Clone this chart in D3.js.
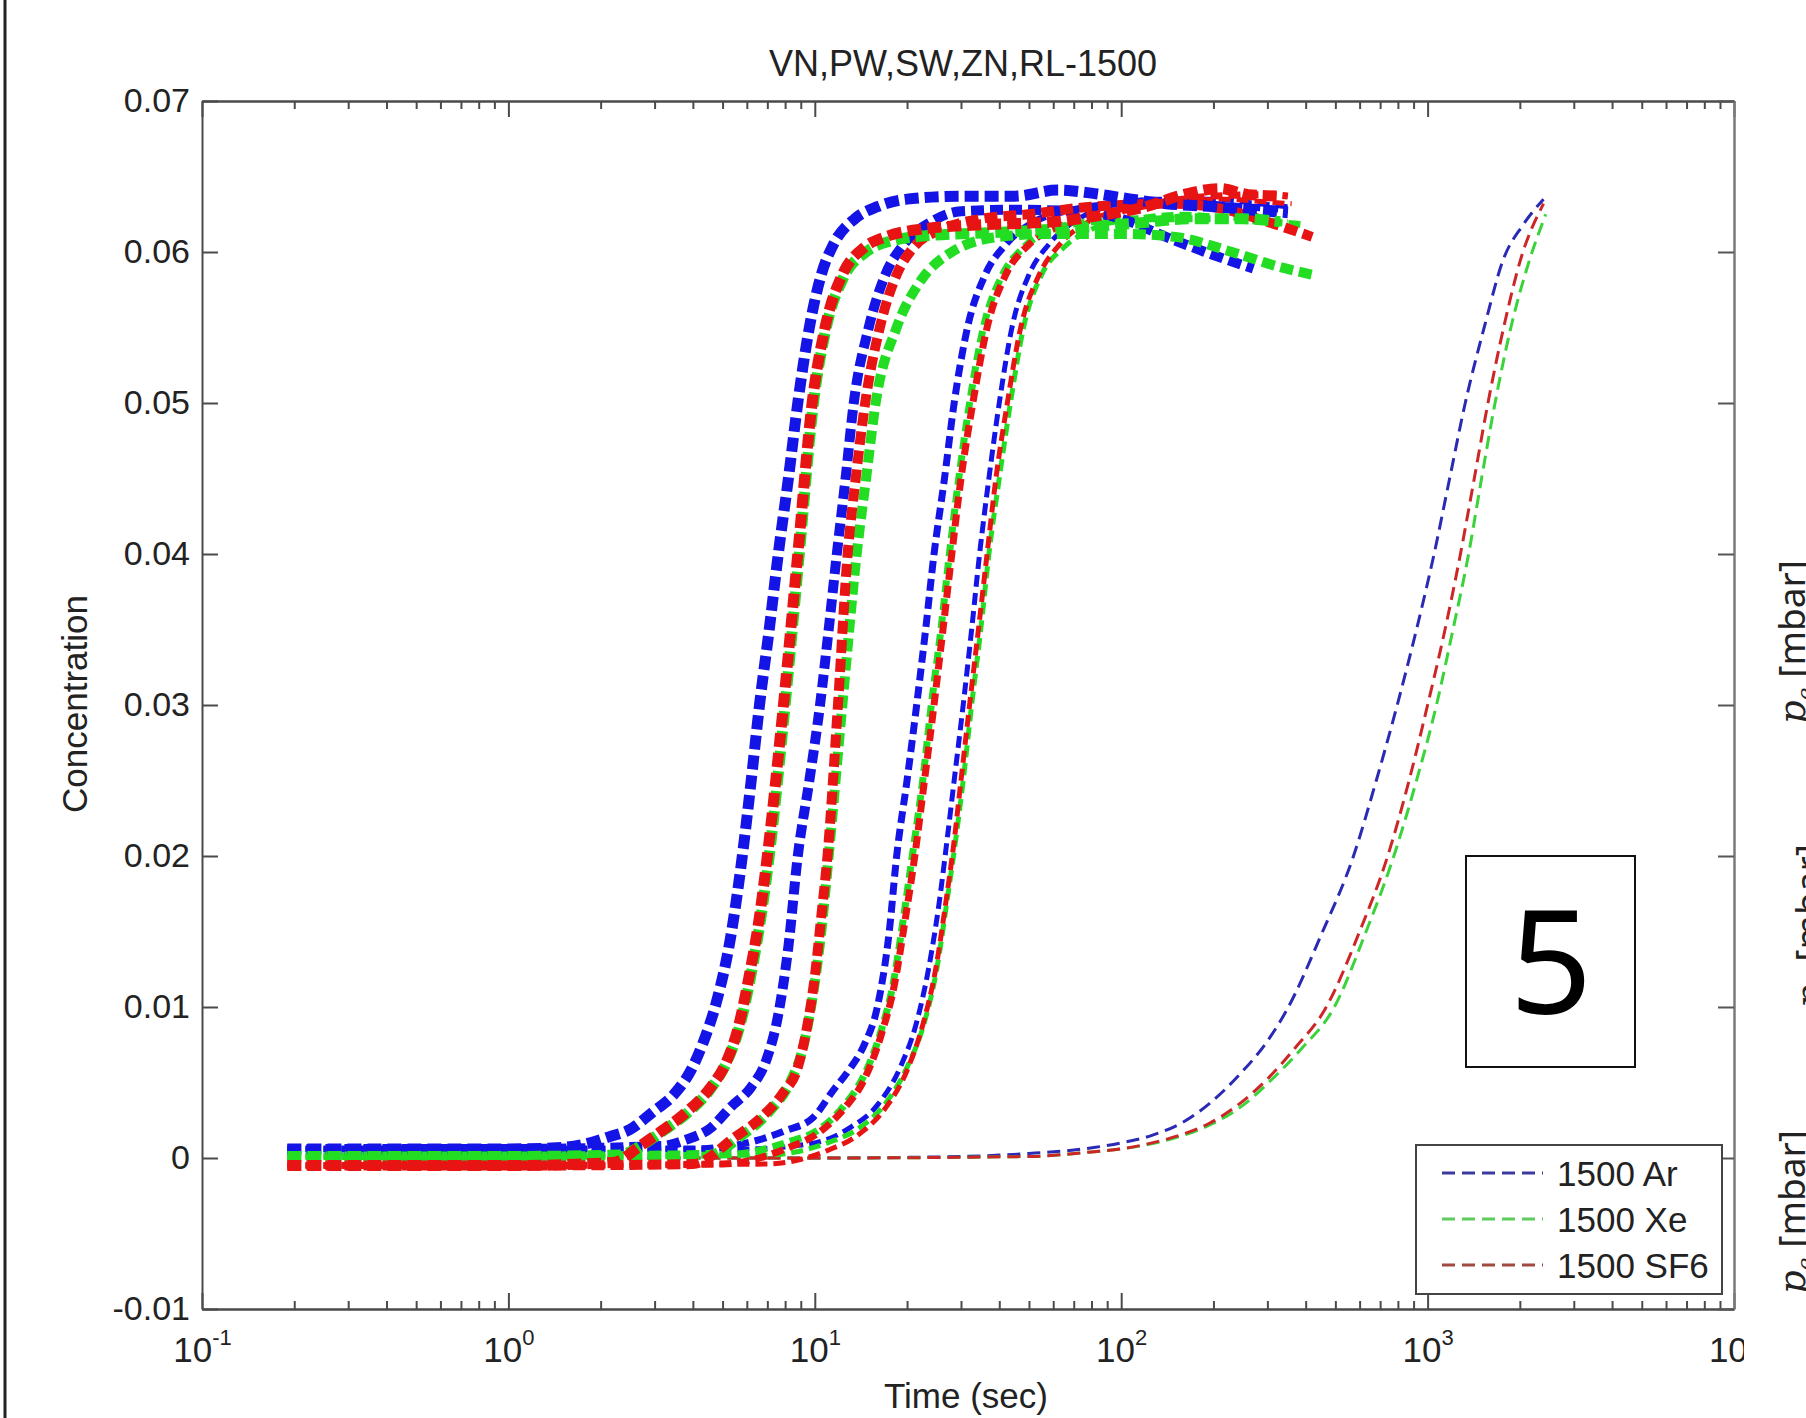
<!DOCTYPE html>
<html>
<head>
<meta charset="utf-8">
<script src="https://cdn.jsdelivr.net/npm/d3@7"></script>
<style>
    body { margin: 0; background: #fff; }
    svg { display: block; }
</style>
</head>
<body>
<svg id="vis" width="1806" height="1418"></svg>
<script>
// tick values / labels
var yTicks = [-0.01, 0, 0.01, 0.02, 0.03, 0.04, 0.05, 0.06, 0.07];
var xMajorTicks = [0.1, 1, 10, 100, 1000, 10000];
var xTickExponents = ["-1", "0", "1", "2", "3", "4"];
var legendLabels = ["1500 Ar", "1500 Xe", "1500 SF6"];

// series data: [time (sec), concentration]
// group 1 (thickest)
var g1Ar = [[0.19,0.0006],[0.5,0.0006],[1,0.0006],[1.5,0.0007],[1.76,0.0009],[2.13,0.0014],[2.5,0.0019],[2.94,0.003],[3.5,0.0043],[3.94,0.0058],[4.35,0.0078],[4.8,0.0105],[5.3,0.0145],[5.8,0.02],[6.2,0.025],[6.6,0.03],[7.1,0.035],[7.6,0.04],[8.2,0.045],[8.8,0.05],[9.6,0.055],[10.5,0.0585],[11.5,0.0605],[13.5,0.0622],[16,0.063],[20,0.0635],[30,0.0637],[45,0.0637],[62,0.0641],[80,0.0639],[100,0.0636],[140,0.0632],[200,0.063],[260,0.0628],[350,0.0626]];
var g1Xe = [[0.19,0.0001],[1,0.0001],[2.3,0.0002],[2.75,0.0009],[3.2,0.0018],[3.85,0.003],[4.65,0.0048],[5.2,0.0065],[5.7,0.0088],[6.2,0.0122],[6.7,0.0162],[7.1,0.02],[8,0.03],[8.9,0.04],[9.9,0.05],[10.9,0.055],[12.4,0.0583],[14.7,0.06],[17.5,0.0607],[24,0.0611],[40,0.0613],[70,0.0616],[110,0.0619],[170,0.0622],[250,0.0622],[330,0.062]];
var g1SF6 = [[0.19,-0.0005],[1,-0.0005],[2.2,-0.0003],[2.69,0.0008],[3.12,0.0017],[3.79,0.003],[4.58,0.0047],[5.13,0.0063],[5.6,0.0085],[6.1,0.012],[6.6,0.016],[7,0.02],[7.9,0.03],[8.8,0.04],[9.8,0.05],[10.8,0.055],[12.3,0.0585],[14.5,0.0603],[17,0.061],[22,0.0615],[35,0.0618],[60,0.062],[90,0.0625],[120,0.063],[160,0.0638],[210,0.0642],[260,0.0638],[330,0.0637]];
// group 2
var g2Ar = [[0.19,0.0006],[1,0.0006],[3.2,0.0008],[3.79,0.0012],[4.58,0.002],[5.33,0.0034],[6.2,0.0047],[6.95,0.0065],[7.6,0.0095],[8.2,0.014],[8.8,0.02],[9.6,0.025],[10.4,0.03],[11.1,0.035],[11.8,0.04],[12.6,0.045],[13.4,0.05],[15,0.055],[17,0.0585],[19.5,0.0605],[24,0.062],[30,0.0627],[45,0.0628],[70,0.0627],[100,0.0622],[140,0.061],[200,0.0598],[270,0.0589]];
var g2Xe = [[0.19,0.0001],[1,0.0001],[4.5,0.0002],[5.8,0.0015],[7.2,0.0032],[8.3,0.005],[9.2,0.0075],[9.9,0.011],[10.5,0.015],[11.1,0.02],[12.3,0.03],[13.7,0.04],[14.7,0.045],[15.8,0.05],[18.5,0.055],[22,0.058],[28,0.06],[40,0.061],[60,0.0612],[100,0.0612],[150,0.061],[230,0.06],[330,0.059],[420,0.0585]];
var g2SF6 = [[0.19,-0.0005],[1,-0.0005],[4,-0.0004],[5.5,0.0014],[6.7,0.0027],[7.87,0.0043],[8.8,0.006],[9.4,0.0085],[10,0.012],[10.5,0.016],[11,0.02],[11.9,0.03],[12.8,0.04],[13.6,0.045],[14.6,0.05],[16.3,0.055],[18.5,0.0585],[21,0.0603],[26,0.0615],[35,0.0622],[50,0.0625],[80,0.063],[150,0.0632],[220,0.0628],[300,0.062],[420,0.061]];
// group 3
var g3Ar = [[0.19,0.0006],[1,0.0006],[4,0.0006],[6,0.001],[8,0.0018],[9.9,0.0027],[11.5,0.0045],[12.9,0.0058],[14.5,0.0075],[16,0.01],[17.5,0.015],[18.5,0.02],[20,0.025],[21.5,0.03],[23,0.035],[24.5,0.04],[26.5,0.045],[28.5,0.05],[31.5,0.055],[36,0.0585],[42,0.0605],[52,0.062],[70,0.0628],[100,0.0632],[150,0.0633],[250,0.063],[350,0.0628]];
var g3Xe = [[0.19,0.0001],[1,0.0001],[5,0.0002],[8,0.001],[10.5,0.002],[12.5,0.0035],[14.5,0.0055],[16.5,0.0085],[18,0.0115],[19.5,0.016],[20.8,0.02],[22.5,0.025],[24,0.03],[25.8,0.035],[27.5,0.04],[29.5,0.045],[32,0.05],[35.5,0.055],[41,0.0585],[48,0.0603],[60,0.0615],[80,0.062],[120,0.0622],[200,0.0622],[300,0.062],[400,0.0618]];
var g3SF6 = [[0.19,-0.0005],[1,-0.0005],[5,-0.0004],[8,0.0006],[10.5,0.0018],[12.5,0.0033],[14.5,0.0052],[16.5,0.0082],[18.2,0.0115],[19.8,0.016],[21.2,0.02],[22.8,0.025],[24.5,0.03],[26.2,0.035],[28,0.04],[30,0.045],[32.8,0.05],[36.5,0.055],[42,0.0585],[50,0.0605],[65,0.0618],[90,0.0625],[130,0.0632],[200,0.0637],[300,0.0638],[350,0.0637]];
// group 4
var g4Ar = [[0.19,0.0006],[1,0.0006],[6,0.0006],[10,0.001],[13,0.002],[16,0.0035],[19,0.006],[21.5,0.009],[23.5,0.0125],[25.5,0.017],[27,0.021],[28.5,0.025],[30.5,0.03],[32.5,0.035],[34.5,0.04],[37,0.045],[40,0.05],[44,0.055],[50,0.0585],[58,0.0605],[70,0.062],[90,0.063],[130,0.0635],[200,0.0635],[280,0.0632],[350,0.063]];
var g4Xe = [[0.19,0.0001],[1,0.0001],[7,0.0002],[11,0.001],[14,0.002],[17,0.0036],[20,0.006],[22.8,0.009],[25,0.0125],[27,0.017],[28.8,0.021],[30.5,0.025],[32.5,0.03],[34.8,0.035],[37,0.04],[40,0.045],[43.5,0.05],[48,0.055],[55,0.0585],[65,0.0603],[80,0.0615],[110,0.0622],[160,0.0625],[250,0.0622],[350,0.062]];
var g4SF6 = [[0.19,-0.0005],[1,-0.0005],[7,-0.0004],[11,0.0005],[14,0.0016],[17,0.0033],[20,0.0058],[22.5,0.0088],[24.8,0.0125],[26.8,0.017],[28.5,0.021],[30,0.025],[32,0.03],[34.2,0.035],[36.5,0.04],[39,0.045],[42.5,0.05],[47,0.055],[54,0.0585],[63,0.0605],[78,0.062],[100,0.0628],[150,0.0633],[220,0.0635],[300,0.0633],[360,0.0632]];
// group 5 (thin, slow)
var g5Ar = [[0.19,0],[10,0],[30,0.0001],[50,0.0003],[75,0.0006],[100,0.001],[126,0.0015],[160,0.0024],[194,0.0036],[240,0.0054],[299,0.0077],[347,0.0098],[450,0.0148],[573,0.02],[680,0.025],[796,0.03],[920,0.035],[1050,0.04],[1180,0.045],[1327,0.05],[1530,0.055],[1766,0.0595],[2050,0.0618],[2390,0.0635]];
var g5Xe = [[0.19,0],[10,0],[50,0.0001],[80,0.0004],[100,0.0006],[130,0.001],[165,0.0016],[200,0.0023],[250,0.0035],[310,0.0052],[390,0.0073],[490,0.0098],[630,0.015],[776,0.02],[920,0.025],[1069,0.03],[1210,0.035],[1361,0.04],[1500,0.045],[1660,0.05],[1880,0.0552],[2138,0.0593],[2430,0.0625]];
var g5SF6 = [[0.19,0],[10,0],[50,0.0001],[80,0.0004],[100,0.0006],[126,0.001],[160,0.0016],[194,0.0023],[240,0.0035],[299,0.0052],[370,0.0073],[461,0.0098],[600,0.015],[741,0.02],[870,0.025],[1000,0.03],[1140,0.035],[1280,0.04],[1420,0.045],[1574,0.05],[1780,0.0552],[2011,0.0595],[2390,0.0632]];

// line styles (drawn thin first, thick last)
var blue = "#1414e6", green = "#22dd22", red = "#e81414";
var series = [
    {data: g5Ar, color: "#2a2ab4", width: 3, dash: "13,7"},
    {data: g5Xe, color: "#3ad43a", width: 3, dash: "13,7"},
    {data: g5SF6, color: "#cc2626", width: 3, dash: "13,7"},
    {data: g4Ar, color: blue, width: 5, dash: "12,6"},
    {data: g4Xe, color: green, width: 5, dash: "12,6"},
    {data: g4SF6, color: red, width: 5, dash: "12,6"},
    {data: g3Ar, color: blue, width: 7, dash: "12,6"},
    {data: g3Xe, color: green, width: 7, dash: "12,6"},
    {data: g3SF6, color: red, width: 7, dash: "12,6"},
    {data: g2Ar, color: blue, width: 10, dash: "13,6"},
    {data: g2Xe, color: green, width: 10, dash: "13,6"},
    {data: g2SF6, color: red, width: 10, dash: "13,6"},
    {data: g1Ar, color: blue, width: 11, dash: "14,6"},
    {data: g1Xe, color: green, width: 11, dash: "14,6"},
    {data: g1SF6, color: red, width: 11, dash: "14,6"}
];
var legendColors = ["#3a3aa0", "#5ccc5c", "#a04a40"];

var font = "'Liberation Sans', Arial, sans-serif";
var axisColor = "#4a4a4a";

// scales
var x = d3.scaleLog().domain([0.1, 10000]).range([202, 1734]);
var y = d3.scaleLinear().domain([-0.01, 0.07]).range([1309, 101]);

var vis = d3.select("#vis");

// left border of the scanned page
vis.append("line")
    .attr("x1", 5).attr("x2", 5)
    .attr("y1", 0).attr("y2", 1418)
    .attr("stroke", "#222")
    .attr("stroke-width", 3);

// curves
var line = d3.line()
    .x(function (d) { return x(d[0]); })
    .y(function (d) { return y(d[1]); })
    .curve(d3.curveMonotoneX);

vis.append("g")
    .selectAll("path")
    .data(series)
    .enter()
    .append("path")
    .attr("fill", "none")
    .attr("stroke", function (d) { return d.color; })
    .attr("stroke-width", function (d) { return d.width; })
    .attr("stroke-dasharray", function (d) { return d.dash; })
    .attr("d", function (d) { return line(d.data); });

// minor ticks on log axis
var xMinorTicks = [];
xMajorTicks.slice(0, -1).forEach(function (m) {
    for (var k = 2; k <= 9; k++) xMinorTicks.push(m * k);
});

function styleAxis(g) {
    g.selectAll(".domain").attr("stroke", axisColor).attr("stroke-width", 2);
    g.selectAll(".tick line").attr("stroke", axisColor).attr("stroke-width", 2);
}

// bottom axis
var xBottom = vis.append("g")
    .attr("transform", "translate(0," + y(-0.01) + ")")
    .call(d3.axisBottom(x).tickValues(xMajorTicks).tickSize(-16).tickSizeOuter(0).tickFormat(""))
    .call(styleAxis);
vis.append("g")
    .attr("transform", "translate(0," + y(-0.01) + ")")
    .call(d3.axisBottom(x).tickValues(xMinorTicks).tickSize(-8).tickSizeOuter(0).tickFormat(""))
    .call(styleAxis);

xBottom.selectAll(".tick text").remove();
xBottom.selectAll(".tick").append("text")
    .attr("y", 53)
    .attr("text-anchor", "middle")
    .attr("fill", "#222")
    .style("font-family", font)
    .style("font-size", "35px")
    .each(function (d, i) {
        var t = d3.select(this);
        t.append("tspan").text("10");
        t.append("tspan").attr("dy", -17).style("font-size", "22px").text(xTickExponents[i]);
    });

// top axis
vis.append("g")
    .attr("transform", "translate(0," + y(0.07) + ")")
    .call(d3.axisTop(x).tickValues(xMajorTicks).tickSize(-16).tickSizeOuter(0).tickFormat(""))
    .call(styleAxis);
vis.append("g")
    .attr("transform", "translate(0," + y(0.07) + ")")
    .call(d3.axisTop(x).tickValues(xMinorTicks).tickSize(-8).tickSizeOuter(0).tickFormat(""))
    .call(styleAxis);

// left axis
var yLeft = vis.append("g")
    .attr("transform", "translate(" + x(0.1) + ",0)")
    .call(d3.axisLeft(y).tickValues(yTicks).tickSize(-16).tickSizeOuter(0).tickPadding(12)
        .tickFormat(function (d) { return d === 0 ? "0" : d.toFixed(2); }))
    .call(styleAxis);
yLeft.selectAll(".tick text")
    .attr("fill", "#222")
    .style("font-family", font)
    .style("font-size", "34px");

// right axis
vis.append("g")
    .attr("transform", "translate(" + x(10000) + ",0)")
    .call(d3.axisRight(y).tickValues(yTicks).tickSize(-16).tickSizeOuter(0).tickFormat(""))
    .call(function (g) {
        g.selectAll(".domain").attr("stroke", "#7a7a7a").attr("stroke-width", 2.5);
        g.selectAll(".tick line").attr("stroke", "#555").attr("stroke-width", 2);
    });

// 10^4 label is cut off in the scan
vis.append("rect")
    .attr("x", 1744).attr("y", 1318)
    .attr("width", 30).attr("height", 70)
    .attr("fill", "#fff");

// title and axis labels
vis.append("text")
    .attr("x", 963).attr("y", 76)
    .attr("text-anchor", "middle")
    .attr("fill", "#222")
    .style("font-family", font)
    .style("font-size", "36px")
    .text("VN,PW,SW,ZN,RL-1500");

vis.append("text")
    .attr("x", 966).attr("y", 1408)
    .attr("text-anchor", "middle")
    .attr("fill", "#222")
    .style("font-family", font)
    .style("font-size", "35px")
    .text("Time (sec)");

vis.append("text")
    .attr("transform", "translate(87,704) rotate(-90)")
    .attr("text-anchor", "middle")
    .attr("fill", "#222")
    .style("font-family", font)
    .style("font-size", "35px")
    .text("Concentration");

// legend
var legend = vis.append("g").attr("transform", "translate(1416,1145)");
legend.append("rect")
    .attr("width", 306).attr("height", 149)
    .attr("fill", "#fff")
    .attr("stroke", "#444")
    .attr("stroke-width", 2);
legendLabels.forEach(function (label, i) {
    var ly = 28 + i * 46;
    legend.append("line")
        .attr("x1", 26).attr("x2", 127)
        .attr("y1", ly).attr("y2", ly)
        .attr("stroke", legendColors[i])
        .attr("stroke-width", 3)
        .attr("stroke-dasharray", "13,7");
    legend.append("text")
        .attr("x", 141).attr("y", ly)
        .attr("dy", "0.36em")
        .attr("fill", "#222")
        .style("font-family", font)
        .style("font-size", "35px")
        .text(label);
});

// panel number box
vis.append("rect")
    .attr("x", 1466).attr("y", 856)
    .attr("width", 169).attr("height", 211)
    .attr("fill", "#fff")
    .attr("stroke", "#111")
    .attr("stroke-width", 2);
vis.append("text")
    .attr("x", 1551).attr("y", 1014)
    .attr("text-anchor", "middle")
    .attr("fill", "#000")
    .style("font-family", "'Noto Sans', 'Open Sans', sans-serif")
    .style("font-size", "145px")
    .text("5");

// neighbouring panel labels, cut at the edge
var sideLabels = [
    {x: 1805, y: 560},
    {x: 1822, y: 844},
    {x: 1805, y: 1130}
];
sideLabels.forEach(function (s) {
    var t = vis.append("text")
        .attr("transform", "translate(" + s.x + "," + s.y + ") rotate(-90)")
        .attr("text-anchor", "end")
        .attr("fill", "#222")
        .style("font-family", "'Noto Sans', sans-serif")
        .style("font-size", "37px");
    t.append("tspan").style("font-family", "'DejaVu Serif', serif").style("font-style", "italic").text("p");
    t.append("tspan").attr("dy", 8).style("font-size", "22px").style("font-family", "'DejaVu Serif', serif").style("font-style", "italic").text("e");
    t.append("tspan").attr("dy", -8).text(" [mbar]");
});
</script>
</body>
</html>
